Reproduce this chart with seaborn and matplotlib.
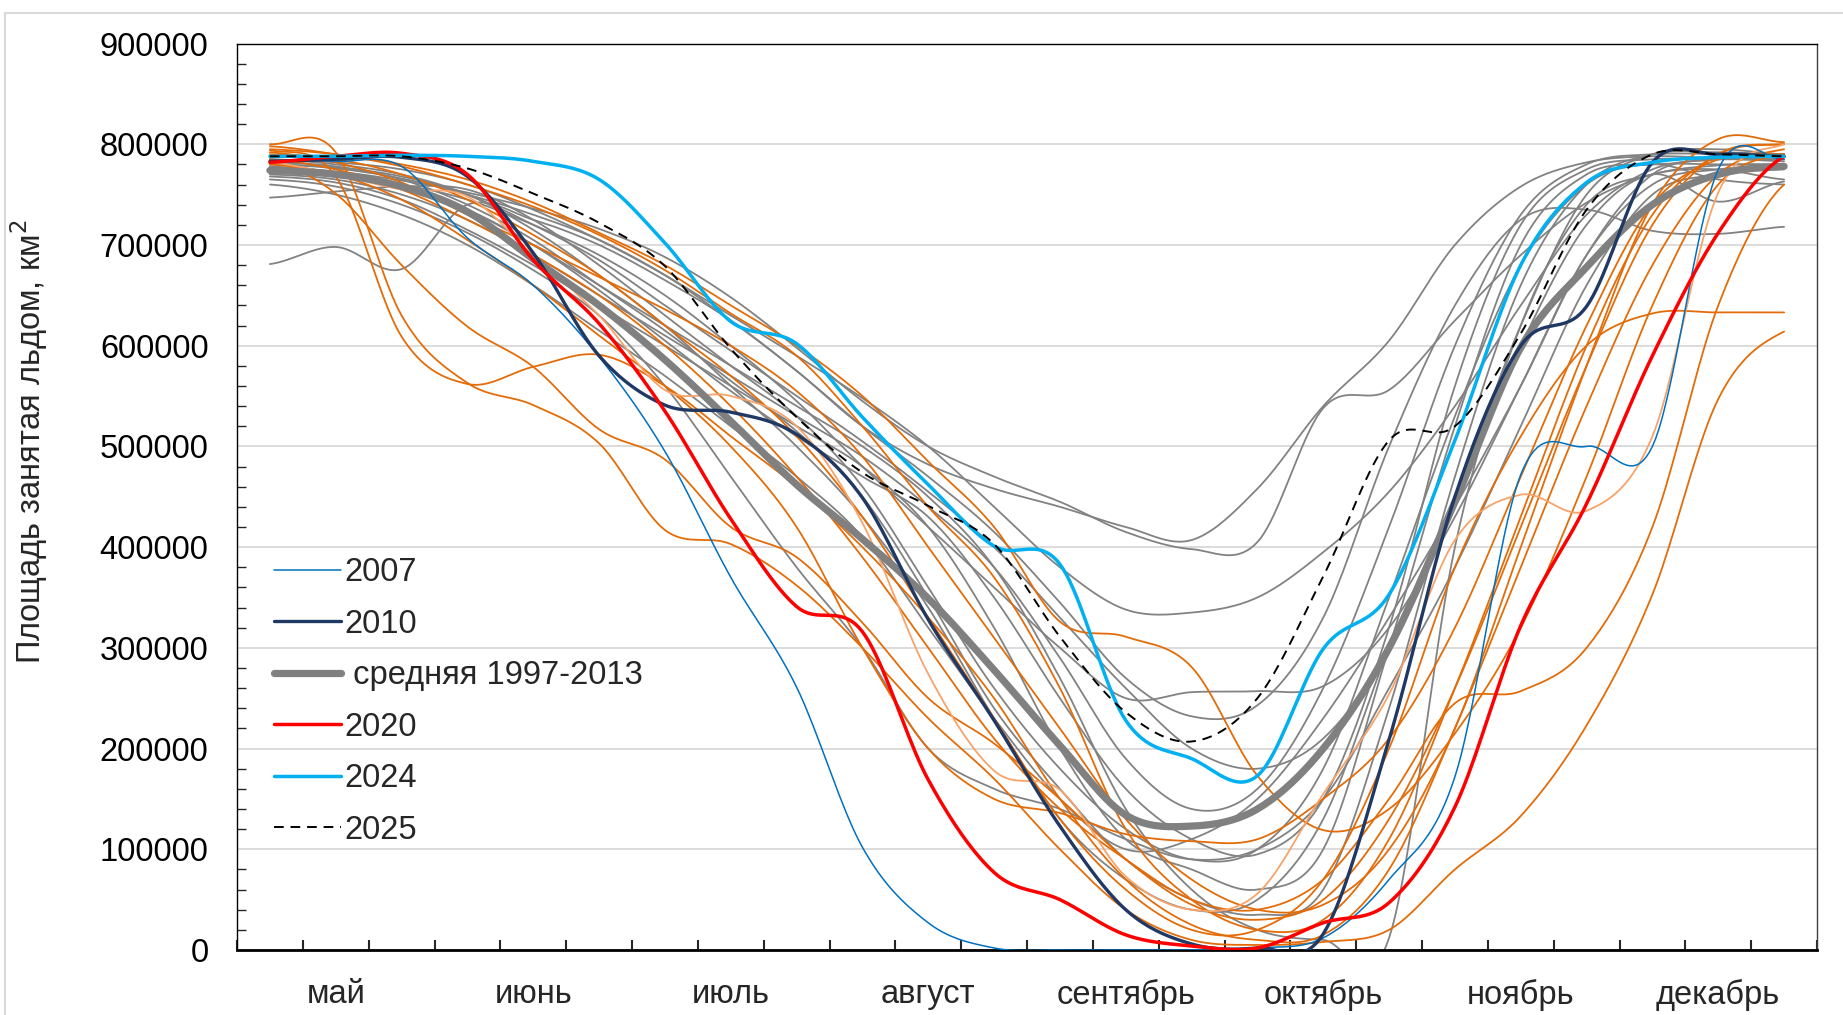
import numpy as np
import pandas as pd
import matplotlib
matplotlib.use("Agg")
import matplotlib.pyplot as plt
from matplotlib.lines import Line2D
from matplotlib.patches import Rectangle
from matplotlib.ticker import MultipleLocator, FuncFormatter, FixedLocator
import seaborn as sns

# ---------------- data (thousand km2, by dekad May-1 .. Dec-3) ----------------
months = ["май", "июнь", "июль", "август", "сентябрь", "октябрь", "ноябрь", "декабрь"]
dekads_per_month = 3

y2007 = [784, 783, 778, 707, 660, 589, 495, 370, 261, 102, 27, 2, 0, 0, 0, 2, 12, 70, 172, 472, 500, 500, 775, 785]
y2010 = [783, 785, 787, 768, 692, 590, 541, 534, 512, 449, 328, 228, 123, 40, 6, 2, 16, 209, 450, 600, 639, 782, 790, 788]
mean_1997_2013 = [774, 770, 758, 733, 686, 640, 586, 525, 462, 408, 349, 278, 203, 134, 123, 140, 200, 300, 445, 598, 678, 740, 770, 778]
y2020 = [782, 788, 791, 770, 685, 622, 535, 428, 341, 316, 169, 77, 50, 15, 4, 2, 27, 47, 142, 322, 443, 590, 712, 788]
y2024 = [788, 788, 789, 788, 783, 765, 702, 624, 602, 529, 462, 401, 383, 228, 190, 173, 299, 353, 506, 680, 762, 782, 787, 788]
y2025 = [788, 788, 788, 776, 751, 722, 679, 597, 529, 474, 441, 403, 311, 236, 207, 250, 371, 506, 520, 612, 735, 790, 790, 788]

gray_years = {
    "g1": [780, 776, 766, 750, 730, 705, 670, 625, 575, 520, 482, 458, 440, 420, 407, 458, 540, 605, 700, 758, 782, 788, 786, 783],
    "g2": [777, 773, 764, 752, 736, 716, 688, 648, 598, 545, 500, 470, 445, 415, 398, 405, 538, 556, 625, 690, 742, 770, 779, 780],
    "g3": [785, 782, 775, 760, 735, 705, 670, 630, 590, 548, 500, 440, 380, 338, 335, 350, 395, 455, 540, 640, 730, 775, 785, 787],
    "g4": [772, 768, 760, 745, 720, 690, 650, 600, 545, 480, 420, 360, 300, 250, 256, 257, 262, 320, 430, 560, 690, 760, 775, 778],
    "g5": [681, 698, 676, 740, 725, 700, 665, 625, 575, 520, 470, 415, 345, 270, 232, 243, 330, 500, 640, 725, 735, 714, 711, 718],
    "g6": [770, 765, 750, 725, 690, 650, 610, 570, 530, 490, 440, 380, 290, 190, 140, 160, 260, 420, 600, 730, 780, 790, 790, 788],
    "g7": [775, 770, 755, 735, 700, 655, 605, 555, 510, 470, 430, 350, 250, 160, 110, 95, 150, 320, 560, 720, 775, 785, 785, 785],
    "g8": [768, 762, 745, 715, 680, 640, 600, 560, 520, 480, 420, 320, 200, 110, 80, 60, 100, 300, 520, 700, 770, 780, 780, 780],
    "g9": [782, 778, 765, 740, 705, 660, 615, 565, 515, 450, 350, 240, 160, 90, 50, 35, 60, 240, 470, 660, 760, 790, 792, 790],
    "g10": [760, 750, 730, 700, 660, 615, 570, 520, 470, 410, 320, 230, 150, 100, 110, 150, 230, 330, 440, 560, 690, 770, 785, 785],
    "g11": [747, 753, 758, 755, 725, 680, 630, 580, 530, 460, 360, 260, 180, 120, 90, 100, 180, 350, 530, 680, 760, 780, 765, 760],
    "g12": [778, 772, 760, 735, 700, 660, 620, 580, 540, 500, 450, 380, 270, 140, 60, 20, 10, 12, 400, 620, 740, 770, 775, 765],
    "g13": [785, 780, 770, 750, 715, 670, 620, 560, 500, 430, 340, 230, 130, 70, 40, 50, 130, 300, 450, 600, 720, 770, 743, 763],
    "g14": [765, 758, 740, 712, 675, 630, 560, 470, 380, 300, 200, 160, 140, 110, 90, 100, 150, 260, 380, 520, 660, 750, 770, 775],
    "g15": [780, 777, 768, 750, 720, 685, 640, 595, 550, 505, 455, 400, 330, 260, 200, 180, 210, 300, 450, 620, 750, 790, 795, 790],
}

orange_years = {
    "o1": [794, 768, 609, 562, 579, 591, 560, 510, 460, 400, 330, 250, 150, 70, 25, 10, 15, 80, 220, 380, 540, 680, 770, 795],
    "o2": [784, 751, 680, 619, 579, 517, 487, 420, 390, 325, 250, 205, 150, 90, 45, 30, 50, 130, 260, 420, 580, 720, 790, 800],
    "o3": [800, 792, 630, 563, 541, 503, 417, 403, 362, 300, 230, 170, 100, 40, 10, 5, 8, 20, 80, 133, 223, 353, 547, 614],
    "o4": [795, 790, 780, 765, 742, 712, 680, 640, 600, 550, 485, 420, 326, 311, 281, 173, 119, 140, 215, 320, 470, 640, 760, 790],
    "o5": [790, 785, 770, 745, 710, 670, 620, 570, 510, 430, 330, 230, 130, 60, 20, 20, 70, 200, 380, 510, 600, 632, 633, 633],
    "o6": [785, 775, 755, 725, 690, 650, 600, 540, 470, 390, 300, 210, 140, 90, 50, 40, 70, 150, 245, 257, 300, 420, 640, 760],
    "o7": [798, 790, 778, 760, 738, 710, 675, 632, 590, 520, 440, 370, 260, 120, 50, 20, 30, 110, 260, 430, 600, 730, 790, 800],
    "o8": [780, 770, 745, 705, 660, 610, 560, 500, 420, 300, 200, 150, 136, 115, 108, 110, 150, 210, 320, 470, 620, 740, 785, 790],
    "o9": [792, 782, 762, 730, 700, 668, 636, 600, 555, 490, 400, 310, 220, 130, 70, 40, 45, 100, 220, 400, 580, 740, 805, 802],
}
light_orange = [782, 770, 755, 748, 690, 630, 556, 550, 520, 424, 274, 178, 159, 73, 40, 56, 155, 254, 407, 452, 436, 510, 752, 800]

y_ticks = list(range(0, 900001, 100000))

# ---------------- helpers ----------------
def smooth(vals, n=20):
    """Excel-like smoothed line (Catmull-Rom / cubic Bezier) for drawing."""
    y = np.asarray(vals, float) * 1000.0
    P = np.concatenate([[y[0]], y, [y[-1]]])
    xs, ys = [], []
    m = len(y)
    for i in range(m - 1):
        p0, p1, p2, p3 = P[i], P[i + 1], P[i + 2], P[i + 3]
        b1 = p1 + (p2 - p0) / 6.0
        b2 = p2 - (p3 - p1) / 6.0
        t = np.linspace(0, 1, n, endpoint=(i == m - 2))
        ys.append((1 - t) ** 3 * p1 + 3 * (1 - t) ** 2 * t * b1 + 3 * (1 - t) * t ** 2 * b2 + t ** 3 * p2)
        xs.append(i + t)
    return np.concatenate(xs), np.concatenate(ys)


sns.set_style("white")
plt.rcParams["font.family"] = ["Liberation Sans", "DejaVu Sans"]

W, H = 1843, 1015
fig = plt.figure(figsize=(W / 100, H / 100), dpi=100)
L, R, T, B = 237, 1817, 43.5, 950
ax = fig.add_axes([L / W, 1 - B / H, (R - L) / W, (B - T) / H])

# figure border
fig.patches.append(Rectangle((5 / W, -0.01), 1.0, 1 - 13 / H + 0.01, transform=fig.transFigure,
                             fill=False, edgecolor="#D9D9D9", lw=1.5, zorder=0))

GRAY = "#828282"
ORANGE = "#E36C09"
LORANGE = "#F7A36A"

def draw(vals, color, lw, z, **kw):
    xs, ys = smooth(vals)
    sns.lineplot(x=xs, y=ys, ax=ax, color=color, lw=lw, estimator=None, sort=False,
                 zorder=z, legend=False, **kw)

for k, v in gray_years.items():
    draw(v, GRAY, 1.3, 2)
for k, v in orange_years.items():
    draw(v, ORANGE, 1.3, 2)
draw(light_orange, LORANGE, 1.3, 2)

draw(mean_1997_2013, "#808080", 5.2, 3, solid_capstyle="round")
draw(y2007, "#0070C0", 1.1, 4)
draw(y2010, "#203864", 2.4, 4)
draw(y2020, "#FF0000", 2.5, 5)
draw(y2024, "#00B0F0", 2.5, 5)
draw(y2025, "black", 1.4, 6, dashes=(5, 3.5))

# axes formatting
n = len(months) * dekads_per_month
ax.set_xlim(-0.5, n - 0.5)
ax.set_ylim(0, 900000)
ax.yaxis.set_major_locator(FixedLocator(y_ticks))
ax.yaxis.set_minor_locator(MultipleLocator(20000))
ax.yaxis.set_major_formatter(FuncFormatter(lambda v, p: f"{int(round(v))}"))
centers = [dekads_per_month * i + 1 for i in range(len(months))]
ax.set_xticks(centers)
ax.set_xticklabels(months)
ax.xaxis.set_minor_locator(FixedLocator(np.arange(-0.5, n, 1.0)))

FS = 23.5
ax.tick_params(axis="y", which="major", direction="inout", length=13, width=1.2, labelsize=FS, pad=14, colors="black")
ax.tick_params(axis="y", which="minor", direction="in", length=6.5, width=1.0, left=True)
ax.tick_params(axis="x", which="major", length=0, labelsize=FS, pad=21)
ax.tick_params(axis="x", which="minor", direction="in", length=7, width=1.5, bottom=True)

ax.grid(axis="y", which="major", color="#D9D9D9", lw=1.3, zorder=0)
ax.grid(axis="x", visible=False)
ax.set_axisbelow(True)

for s in ["left", "top"]:
    ax.spines[s].set_color("black")
    ax.spines[s].set_linewidth(1.0)
ax.spines["right"].set_color("#404040")
ax.spines["right"].set_linewidth(1.0)
ax.spines["bottom"].set_color("black")
ax.spines["bottom"].set_linewidth(2.0)
for s in ax.spines.values():
    s.set_visible(True)

ax.set_xlabel("")
ax.set_ylabel("Площадь занятая льдом, км$^2$", fontsize=FS)
ax.yaxis.set_label_coords(-(L - 50) / (R - L), 0.561)

handles = [
    Line2D([], [], color="#0070C0", lw=1.1),
    Line2D([], [], color="#203864", lw=2.4),
    Line2D([], [], color="#808080", lw=5.2, solid_capstyle="round"),
    Line2D([], [], color="#FF0000", lw=2.5),
    Line2D([], [], color="#00B0F0", lw=2.5),
    Line2D([], [], color="black", lw=1.4, dashes=(5, 3.5)),
]
labels = ["2007", "2010", " средняя 1997-2013", "2020", "2024", "2025"]
ax.legend(handles, labels, loc="upper left", bbox_to_anchor=(274 / W, 1 - 557 / H),
          bbox_transform=fig.transFigure, frameon=False, fontsize=FS, handlelength=2.05,
          handletextpad=0.1, labelspacing=0.63, borderpad=0, borderaxespad=0)

fig.savefig("out.png", dpi=100, facecolor="white")
